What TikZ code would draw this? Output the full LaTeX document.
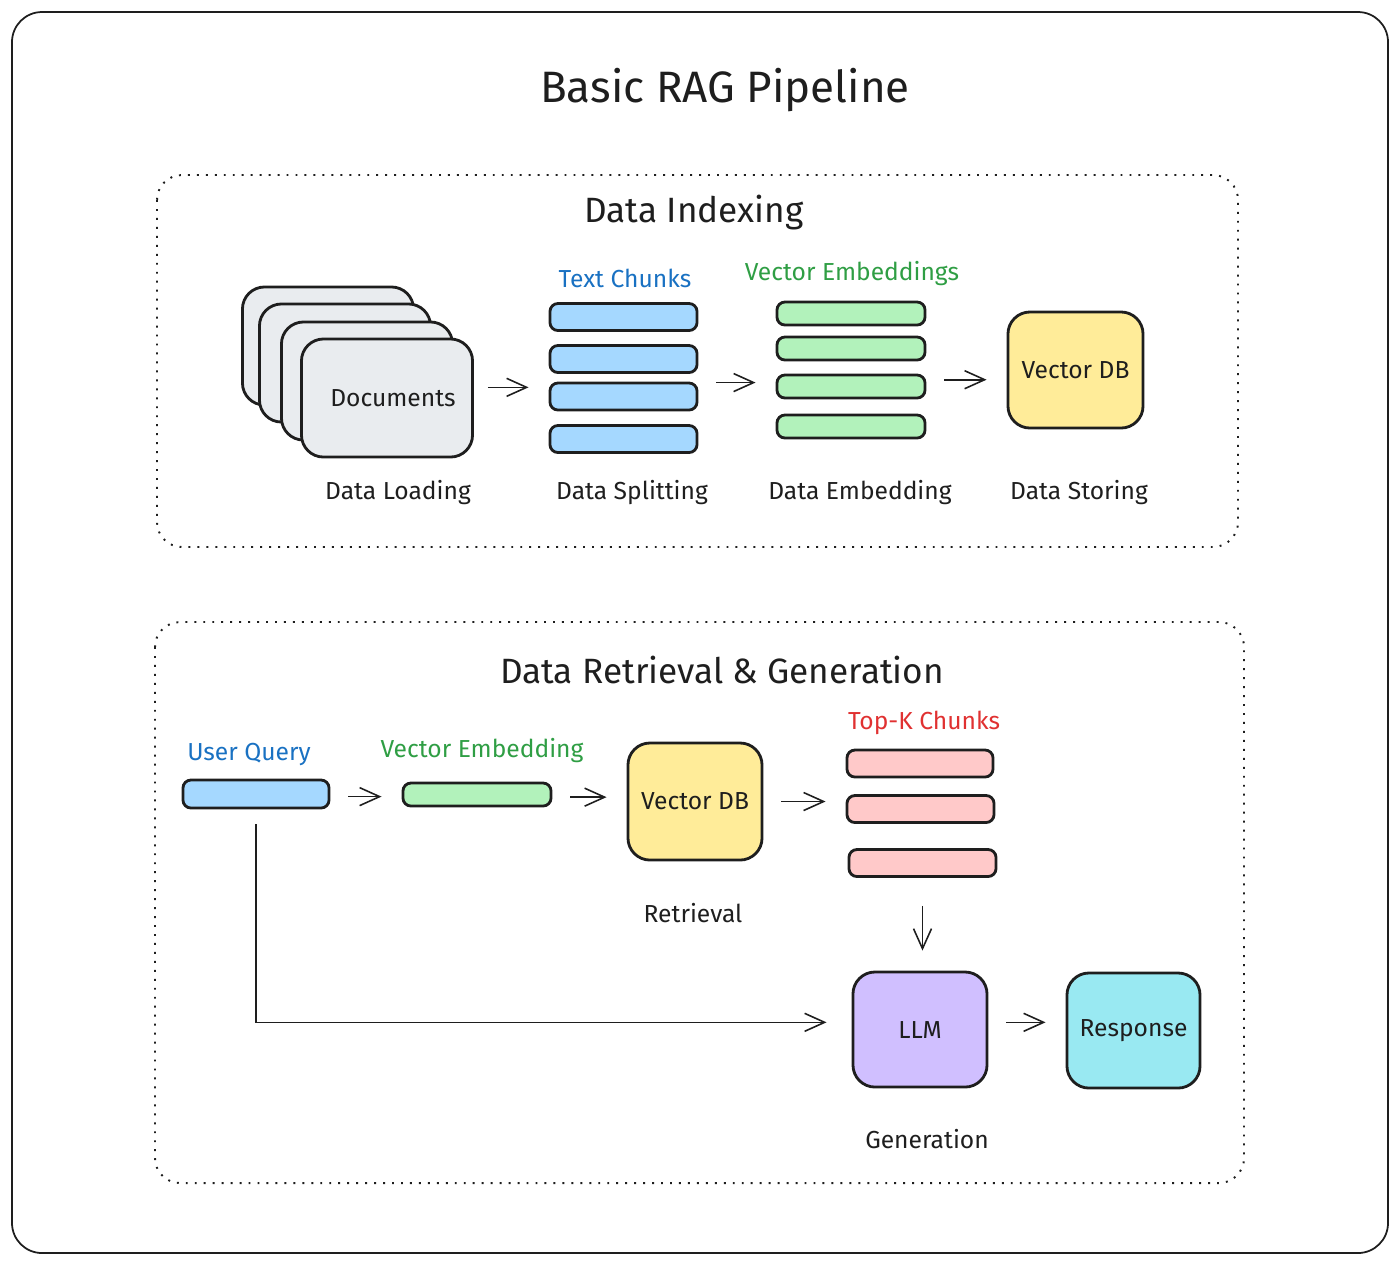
\documentclass[tikz,border=0pt]{standalone}
\usepackage{fontspec}
\setmainfont{Fira Sans}
\usepackage{xcolor}
\usetikzlibrary{arrows.meta}

\definecolor{ink}{HTML}{1E1E1E}
\definecolor{txtblue}{HTML}{1971C2}
\definecolor{txtgreen}{HTML}{2F9E44}
\definecolor{txtred}{HTML}{E03131}
\definecolor{fillgray}{HTML}{E9ECEF}
\definecolor{fillblue}{HTML}{A5D8FF}
\definecolor{fillgreen}{HTML}{B2F2BB}
\definecolor{fillyellow}{HTML}{FFEC99}
\definecolor{fillpink}{HTML}{FFC9C9}
\definecolor{fillviolet}{HTML}{D0BFFF}
\definecolor{fillcyan}{HTML}{99E9F2}

\begin{document}
\begin{tikzpicture}[x=0.01cm, y=-0.01cm, >={Straight Barb[length=2mm, width=1.8mm]}, font=\fontsize{7}{8}\selectfont, text=ink]
	\tikzstyle{card} = [draw=ink, thick, rounded corners=2.2mm, inner sep=0pt, minimum width=1.34cm, minimum height=1.16cm]
	\tikzstyle{doc} = [card, fill=fillgray, minimum width=1.71cm, minimum height=1.18cm]
	\tikzstyle{bar} = [draw=ink, thick, rounded corners=0.8mm, inner sep=0pt, minimum width=1.47cm, minimum height=0.27cm]
	\tikzstyle{ebar} = [bar, fill=fillgreen, minimum width=1.48cm, minimum height=0.23cm]
	\tikzstyle{tag} = [inner sep=1pt]
	\tikzstyle{head} = [inner sep=1pt, font=\fontsize{10}{12}\selectfont]
	\tikzstyle{arr} = [->, color=ink, line width=0.45pt, shorten <=1.8mm, shorten >=2mm]
	\tikzstyle{frame} = [draw=ink, line width=0.5pt, rounded corners=3mm]
	\tikzstyle{group} = [draw=ink, line width=0.55pt, dotted, rounded corners=2.5mm]

	\useasboundingbox (0, 0) rectangle (1400, 1265);
	\draw[frame] (12, 12) rectangle (1388, 1253);
	\draw[group] (157, 175) rectangle (1238, 547);
	\draw[group] (155, 622) rectangle (1244, 1183);

	% titles
	\node[head, font=\fontsize{12.5}{15}\selectfont] at (725, 90) (title) {Basic RAG Pipeline};
	\node[head] at (694, 213) (idx) {Data Indexing};
	\node[head] at (722, 670) (rag) {Data Retrieval \& Generation};

	% data indexing
	\node[doc] at (328, 346) (doc1) {};
	\node[doc] at (345, 363) (doc2) {};
	\node[doc] at (367, 381) (doc3) {};
	\node[doc] at (387, 398) (doc4) {\hspace{1.2mm}Documents};
	\node[tag] at (398, 492) (load) {Data Loading};

	\node[tag, text=txtblue] at (625, 278) (chk) {Text Chunks};
	\node[bar, fill=fillblue] at (623.5, 317) (c1) {};
	\node[bar, fill=fillblue] at (623.5, 359) (c2) {};
	\node[bar, fill=fillblue] at (623.5, 396.5) (c3) {};
	\node[bar, fill=fillblue] at (623.5, 439) (c4) {};
	\node[tag] at (632, 492) (split) {Data Splitting};

	\node[tag, text=txtgreen] at (852, 274) (emb) {Vector Embeddings};
	\node[ebar] at (851, 313.5) (e1) {};
	\node[ebar] at (851, 348.5) (e2) {};
	\node[ebar] at (851, 386.5) (e3) {};
	\node[ebar] at (851, 426.5) (e4) {};
	\node[tag] at (860, 492) (embed) {Data Embedding};

	\node[card, fill=fillyellow, minimum width=1.35cm] at (1075.5, 370) (vdb1) {Vector DB};
	\node[tag] at (1079, 492) (store) {Data Storing};

	% retrieval and generation
	\node[tag, text=txtblue] at (249, 754) (uq) {User Query};
	\node[bar, fill=fillblue, minimum width=1.46cm, minimum height=0.28cm] at (256, 794) (q) {};
	\node[tag, text=txtgreen] at (482, 750) (qemb) {Vector Embedding};
	\node[ebar] at (477, 794.5) (qe) {};
	\node[card, fill=fillyellow, minimum height=1.17cm] at (695, 801.5) (vdb2) {Vector DB};
	\node[tag] at (693, 913) (retr) {Retrieval};

	\node[tag, text=txtred] at (924, 723) (topk) {Top-K Chunks};
	\node[bar, fill=fillpink, minimum width=1.46cm] at (920, 763.5) (k1) {};
	\node[bar, fill=fillpink] at (920.5, 809) (k2) {};
	\node[bar, fill=fillpink] at (922.5, 863) (k3) {};

	\node[card, fill=fillviolet, minimum height=1.15cm] at (920, 1029.5) (llm) {LLM};
	\node[card, fill=fillcyan, minimum width=1.33cm, minimum height=1.15cm] at (1133.5, 1030.5) (resp) {Response};
	\node[tag] at (927, 1139) (gen) {Generation};

	\path[arr]
	(doc4.7)		edge	[shorten <=1.4mm]	(doc4.7 -| c1.west)
	(e3.177 -| c3.east)	edge				(e3.177)
	(vdb1.188 -| e3.east)	edge				(vdb1.188)
	(q.358)			edge				(q.358 -| qe.west)
	(qe.358)		edge				(qe.358 -| vdb2.west)
	(vdb2.east)		edge				(vdb2.east -| k2.west)
	(k3.south)		edge	[shorten <=2.8mm]	(k3.south |- llm.north)
	(llm.6)			edge				(llm.6 -| resp.west);
	\draw[arr, shorten <=1.5mm, shorten >=2.5mm] (q.south) |- (llm.174);
\end{tikzpicture}
\end{document}
